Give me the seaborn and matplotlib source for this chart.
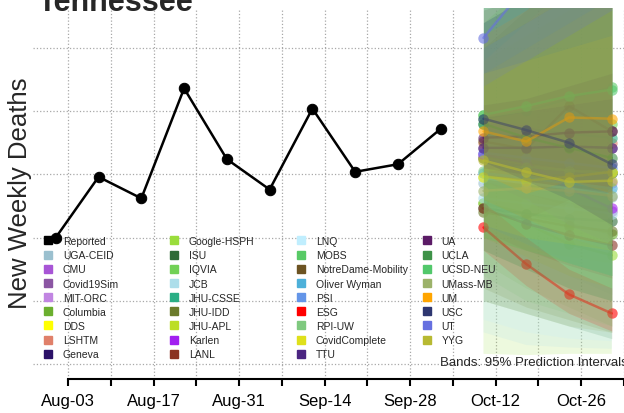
import pandas as pd
import numpy as np
import matplotlib.pyplot as plt
import matplotlib.dates as mdates
from matplotlib.lines import Line2D
import seaborn as sns

# reported weekly deaths (week ending Saturday)
report_dates = ['2020-08-01', '2020-08-08', '2020-08-15', '2020-08-22', '2020-08-29',
                '2020-09-05', '2020-09-12', '2020-09-19', '2020-09-26', '2020-10-03']
reported = [150, 198, 181, 268, 212, 188, 252, 202, 208, 236]

forecast_dates = ['2020-10-10', '2020-10-17', '2020-10-24', '2020-10-31']

models = ['UGA-CEID', 'CMU', 'Covid19Sim', 'MIT-ORC', 'Columbia', 'DDS', 'LSHTM', 'Geneva',
          'Google-HSPH', 'ISU', 'IQVIA', 'JCB', 'JHU-CSSE', 'JHU-IDD', 'JHU-APL', 'Karlen',
          'LANL', 'LNQ', 'MOBS', 'NotreDame-Mobility', 'Oliver Wyman', 'PSI', 'ESG', 'RPI-UW',
          'CovidComplete', 'TTU', 'UA', 'UCLA', 'UCSD-NEU', 'UMass-MB', 'UM', 'USC', 'UT', 'YYG']

model_colors = ['#9BC0CF', '#A855D6', '#8B56A3', '#C185E2', '#6BAF2F', '#FFFF00', '#E0806A', '#2B1168',
                '#9ADD3C', '#2E6B37', '#72D156', '#ADDEEA', '#2AAE85', '#6B7B2B', '#BCDE25', '#A21FF0',
                '#8A3222', '#C0EEFE', '#58CA66', '#6C5322', '#4DB0D9', '#6495E8', '#FF0000', '#7FC97F',
                '#DFE01B', '#4B2581', '#5B1B66', '#3E9248', '#52C86B', '#9CB26A', '#FFA500', '#2E3770',
                '#6670E0', '#B7B932']

# point forecasts, one row per model
point_fc = [
    [193, 189, 185, 182], [216, 205, 189, 171], [221, 220, 222, 221], [214, 209, 201, 193],
    [177, 169, 161, 153], [198, 198, 200, 202], [225, 222, 224, 225], [213, 209, 205, 201],
    [177, 161, 145, 136], [173, 169, 165, 163], [247, 250, 246, 240], [181, 177, 173, 169],
    [240, 236, 232, 229], [170, 165, 159, 155], [213, 208, 203, 202], [216, 209, 189, 173],
    [173, 161, 152, 144], [197, 193, 189, 185], [244, 250, 260, 269], [226, 220, 254, 234],
    [201, 197, 193, 189], [217, 213, 209, 205], [158, 129, 105, 90], [203, 206, 203, 201],
    [198, 195, 198, 202], [221, 221, 222, 221], [229, 230, 233, 234], [240, 229, 221, 213],
    [247, 254, 262, 267], [187, 189, 187, 183], [234, 226, 245, 244], [244, 235, 225, 208],
    [308, 349, 387, 419], [211, 202, 194, 195],
]

# 95% prediction interval bounds
lower_fc = [
    [150, 135, 120, 105], [195, 180, 165, 150], [200, 195, 190, 185], [195, 185, 175, 165],
    [130, 110, 95, 80], [150, 140, 135, 130], [200, 190, 185, 180], [195, 185, 175, 170],
    [58, 57, 58, 58], [100, 90, 80, 70], [150, 140, 130, 120], [75, 65, 63, 62],
    [140, 125, 110, 100], [110, 95, 85, 75], [150, 135, 120, 110], [195, 180, 160, 145],
    [155, 140, 128, 118], [85, 75, 70, 68], [150, 140, 130, 120], [180, 165, 180, 160],
    [160, 145, 130, 120], [175, 160, 150, 140], [140, 112, 90, 76], [120, 100, 90, 80],
    [160, 150, 145, 140], [200, 195, 190, 185], [205, 200, 195, 190], [140, 125, 110, 100],
    [150, 140, 130, 120], [100, 90, 80, 75], [200, 185, 195, 185], [210, 195, 180, 160],
    [270, 290, 310, 330], [180, 165, 150, 145],
]
upper_fc = [
    [300, 330, 360, 390], [240, 235, 220, 200], [245, 250, 255, 260], [235, 235, 230, 225],
    [320, 340, 360, 380], [320, 350, 380, 410], [250, 255, 265, 270], [235, 235, 235, 235],
    [340, 360, 380, 400], [280, 300, 320, 340], [340, 360, 380, 400], [350, 370, 390, 410],
    [320, 340, 360, 380], [300, 330, 360, 390], [340, 370, 400, 430], [240, 240, 220, 205],
    [195, 185, 178, 172], [360, 390, 420, 450], [340, 370, 400, 430], [330, 340, 380, 380],
    [300, 320, 340, 360], [300, 320, 340, 360], [178, 150, 125, 110], [290, 310, 330, 350],
    [280, 300, 320, 340], [245, 250, 255, 260], [255, 260, 270, 280], [340, 360, 380, 400],
    [320, 350, 380, 410], [290, 320, 350, 380], [310, 330, 360, 380], [320, 340, 360, 380],
    [360, 430, 490, 550], [280, 290, 300, 310],
]

sns.set_theme(style='white')
plt.rcParams['font.family'] = ['Liberation Sans', 'DejaVu Sans']

W, H = 624, 414
fig = plt.figure(figsize=(W / 100, H / 100), dpi=100)
ax = fig.add_axes([33 / W, 34 / H, (W - 33) / W, 371 / H])

rep_x = pd.to_datetime(report_dates)
fc_x = pd.to_datetime(forecast_dates)

sns.lineplot(x=rep_x, y=reported, color='black', marker='o', markersize=7.5,
             markeredgecolor='black', linewidth=1.8, ax=ax, zorder=5)

for name, col, mid, lo, hi in zip(models, model_colors, point_fc, lower_fc, upper_fc):
    ax.fill_between(fc_x, lo, hi, color=col, alpha=0.17, linewidth=0, zorder=3)
    sns.lineplot(x=fc_x, y=mid, color=col, marker='o', markersize=7.5, markeredgewidth=0,
                 linewidth=1.8, alpha=0.6, ax=ax, zorder=3)

# axes ticks and limits
start = pd.Timestamp('2020-08-03')
x0 = mdates.date2num(start)
week_ticks = pd.date_range('2020-08-03', '2020-11-02', freq='7D')
ax.set_xticks(week_ticks)
ax.set_xticklabels([d.strftime('%b-%d') if i % 2 == 0 else '' for i, d in enumerate(week_ticks)],
                   fontsize=12)
ax.set_yticks([50, 100, 150, 200, 250, 300])
ax.set_xlim(x0 - 5.73, x0 + 91.0)
ax.set_ylim(38.1, 331.6)
ax.tick_params(axis='y', left=False, labelleft=False)
ax.tick_params(axis='x', bottom=True, length=5, width=1.5, color='black', pad=5, labelcolor='black')
ax.grid(True, linestyle=':', color='#a8a8a8', linewidth=0.9)
ax.set_axisbelow(True)

for s in ['left', 'top', 'right']:
    ax.spines[s].set_visible(False)
ax.spines['bottom'].set_color('black')
ax.spines['bottom'].set_linewidth(1.5)
ax.spines['bottom'].set_bounds(x0, x0 + 120)
ax.set_xlabel('')
ax.set_ylabel('')

# titles
fig.text(38 / W, 1 - 11 / H, 'Tennessee', fontsize=22, fontweight='bold', ha='left', va='baseline')
fig.text(20.5 / W, 1 - 193 / H, 'New Weekly Deaths', fontsize=18.5, rotation=90,
         ha='center', va='center')
fig.text(440 / W, 1 - 363 / H, 'Bands: 95% Prediction Intervals', fontsize=9.5,
         ha='left', va='center', zorder=10)

# legend in four columns
labels = ['Reported'] + models
colors = ['black'] + model_colors
handles = [Line2D([], [], marker='s', linestyle='none', color=c, markersize=6) for c in colors]
col_x = [44, 170, 297, 423]
for i, cx in enumerate(col_x):
    leg = ax.legend(handles[i * 9:(i + 1) * 9], labels[i * 9:(i + 1) * 9], loc='upper left',
                    bbox_to_anchor=(cx / W, 1 - 237 / H), bbox_transform=fig.transFigure,
                    frameon=False, fontsize=7.5, handlelength=0.8, handletextpad=1.0,
                    labelspacing=0.4, borderpad=0, borderaxespad=0)
    leg.set_zorder(8)
    if i < len(col_x) - 1:
        ax.add_artist(leg)

fig.savefig('out.png', dpi=100)
